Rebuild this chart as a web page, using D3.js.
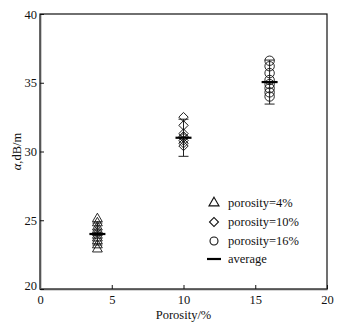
<!DOCTYPE html>
<html>
<head>
<meta charset="utf-8">
<script src="https://cdn.jsdelivr.net/npm/d3@7"></script>
<style>
  body { margin: 0; background: #fff; }
  svg text { font-family: "Liberation Serif", "Times New Roman", serif; fill: #111; }
</style>
</head>
<body>
<svg id="chart" width="345" height="324"></svg>
<script>
// data
const xTicks = [0, 5, 10, 15, 20];
const yTicks = [20, 25, 30, 35, 40];

const porosity4 = [25.1, 24.8, 24.5, 24.3, 24.1, 23.9, 23.7, 23.5, 23.2, 22.9];
const porosity10 = [32.5, 31.9, 31.3, 31.1, 31.0, 30.8, 30.6, 30.4];
const porosity16 = [36.6, 36.2, 35.7, 35.2, 34.9, 34.6, 34.3, 34.0];

const groups = [
  { x: 4, values: porosity4, shape: 'triangle', mean: 24.0, err: 0.8, label: 'porosity=4%' },
  { x: 10, values: porosity10, shape: 'diamond', mean: 31.0, err: 1.35, label: 'porosity=10%' },
  { x: 16, values: porosity16, shape: 'circle', mean: 35.05, err: 1.6, label: 'porosity=16%' }
];

const svg = d3.select('#chart');
const margin = {top: 14, right: 18, bottom: 35, left: 40},
    width = 345 - margin.left - margin.right,
    height = 324 - margin.top - margin.bottom;

const g = svg.append('g')
  .attr('transform', 'translate(' + margin.left + ',' + margin.top + ')');

const x = d3.scaleLinear().domain([0, 20]).range([0, width]);
const y = d3.scaleLinear().domain([20, 40]).range([height, 0]);

const shapes = {
  triangle: d3.symbol().type(d3.symbolTriangle).size(42),
  diamond: d3.symbol().type(d3.symbolSquare).size(44),
  circle: d3.symbol().type(d3.symbolCircle).size(70)
};
const rot = { triangle: 0, diamond: 45, circle: 0 };

// frame
g.append('rect')
  .attr('width', width).attr('height', height)
  .attr('fill', 'none').attr('stroke', '#111').attr('stroke-width', 1.2);

// axes, ticks pointing inward
const xAxis = g.append('g')
  .attr('transform', 'translate(0,' + height + ')')
  .call(d3.axisBottom(x).tickValues(xTicks).tickSizeInner(-4).tickSizeOuter(0).tickPadding(3));
const yAxis = g.append('g')
  .call(d3.axisLeft(y).tickValues(yTicks).tickSizeInner(-4).tickSizeOuter(0).tickPadding(3));

[xAxis, yAxis].forEach(a => {
  a.select('.domain').attr('stroke', '#555').attr('stroke-width', 1.6);
  a.selectAll('line').attr('stroke', '#111');
  a.selectAll('text').attr('font-size', 12.5).attr('fill', '#111')
    .style('font-family', '"Liberation Serif", serif');
});
xAxis.selectAll('text').attr('dy', '0.95em');
yAxis.selectAll('text').attr('dy', '0.32em');
yAxis.selectAll('.tick').filter(d => d === 20).select('text').attr('dy', '0.05em');

// error bars
groups.forEach(gr => {
  const eb = g.append('g').attr('stroke', '#222').attr('stroke-width', 1);
  eb.append('line')
    .attr('x1', x(gr.x)).attr('x2', x(gr.x))
    .attr('y1', y(gr.mean - gr.err)).attr('y2', y(gr.mean + gr.err));
  [gr.mean - gr.err, gr.mean + gr.err].forEach(v => {
    eb.append('line')
      .attr('x1', x(gr.x) - 5).attr('x2', x(gr.x) + 5)
      .attr('y1', y(v)).attr('y2', y(v));
  });
});

// points
groups.forEach(gr => {
  g.selectAll(null)
    .data(gr.values)
    .enter()
    .append('path')
    .attr('d', shapes[gr.shape])
    .attr('transform', d => 'translate(' + x(gr.x) + ',' + y(d) + ') rotate(' + rot[gr.shape] + ')')
    .attr('fill', 'none')
    .attr('stroke', '#111')
    .attr('stroke-width', 0.9);
});

// averages
groups.forEach(gr => {
  g.append('line')
    .attr('x1', x(gr.x) - 8).attr('x2', x(gr.x) + 8)
    .attr('y1', y(gr.mean)).attr('y2', y(gr.mean))
    .attr('stroke', '#000').attr('stroke-width', 2.2);
});

// legend
const legend = g.append('g').attr('transform', 'translate(174,189)');
const legItems = groups.map(gr => ({ shape: gr.shape, label: gr.label }))
  .concat([{ shape: 'line', label: 'average' }]);
const rowH = [0, 19, 38, 56];
legItems.forEach((it, i) => {
  const row = legend.append('g').attr('transform', 'translate(0,' + rowH[i] + ')');
  if (it.shape === 'line') {
    row.append('line').attr('x1', -7).attr('x2', 7)
      .attr('stroke', '#000').attr('stroke-width', 2.2);
  } else {
    const sz = it.shape === 'circle' ? 50 : it.shape === 'diamond' ? 40 : 44;
    row.append('path')
      .attr('d', d3.symbol().type(it.shape === 'triangle' ? d3.symbolTriangle :
        it.shape === 'diamond' ? d3.symbolSquare : d3.symbolCircle).size(sz))
      .attr('transform', 'rotate(' + rot[it.shape] + ')')
      .attr('fill', 'none').attr('stroke', '#111').attr('stroke-width', 1.1);
  }
  row.append('text')
    .attr('x', 14).attr('dy', '0.32em')
    .attr('font-size', 12.5)
    .text(it.label);
});

// axis titles
g.append('text')
  .attr('x', width / 2).attr('y', height + 30)
  .attr('text-anchor', 'middle').attr('font-size', 12.5)
  .text('Porosity/%');

const yt = svg.append('text')
  .attr('transform', 'translate(21,' + (margin.top + height / 2) + ') rotate(-90)')
  .attr('text-anchor', 'middle').attr('font-size', 12.5);
yt.append('tspan').attr('font-style', 'italic').text('α');
yt.append('tspan').text(',dB/m');
</script>
</body>
</html>
